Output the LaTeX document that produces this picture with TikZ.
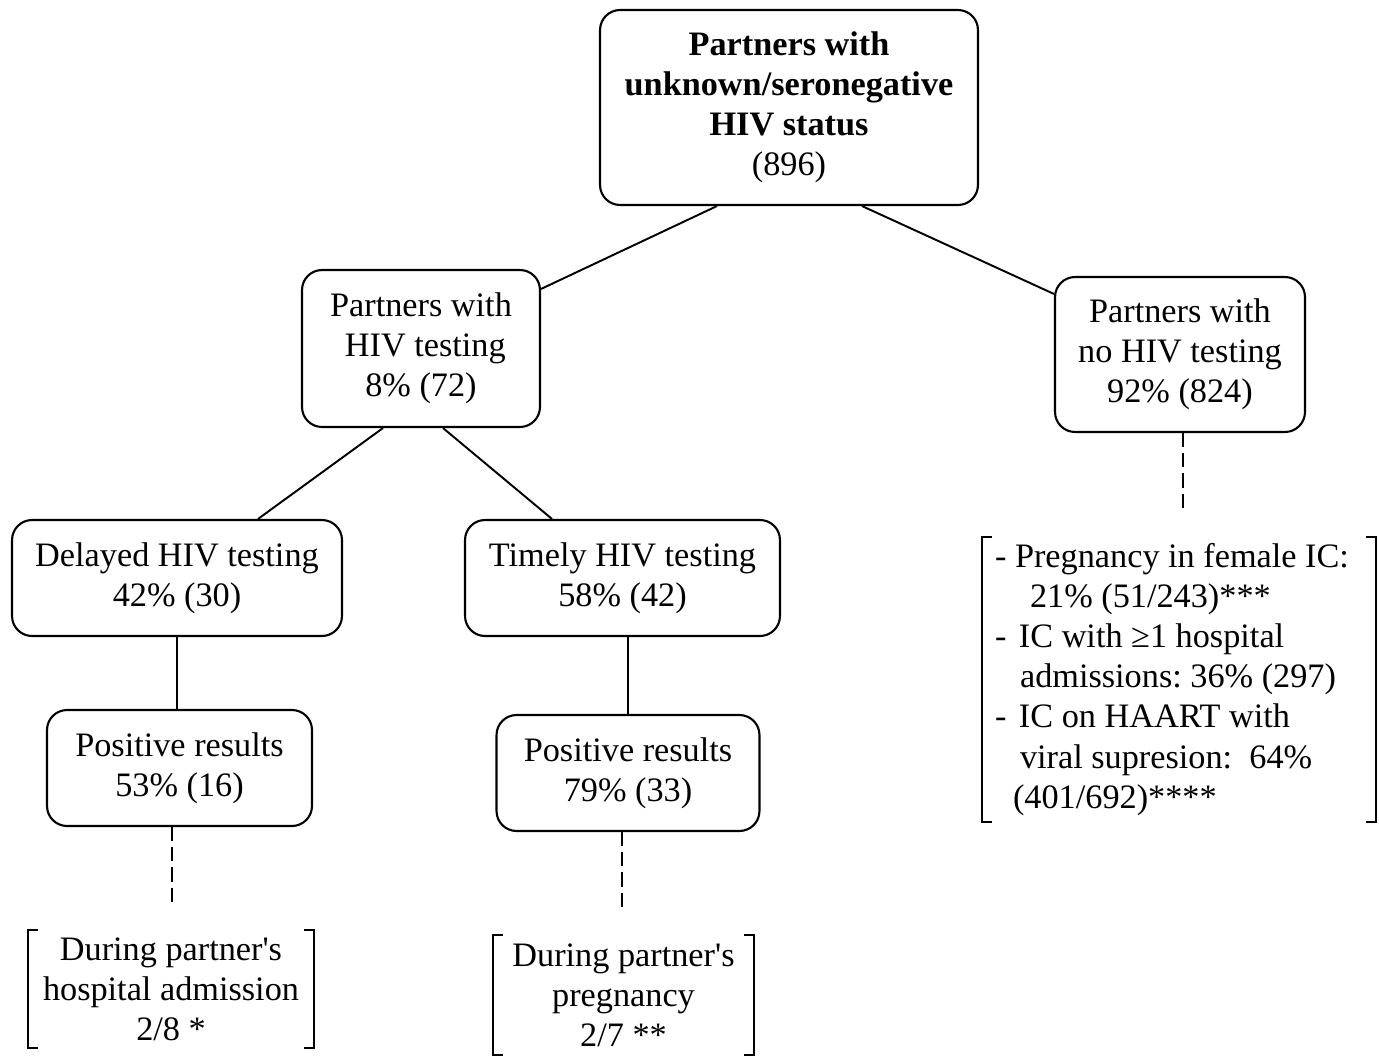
\documentclass[tikz,border=0pt]{standalone}
\usepackage{fontspec}
\setmainfont{Liberation Serif}
\usetikzlibrary{calc}

\tikzset{
	box/.style={draw, rectangle, rounded corners=0.4cm, line width=1.2pt, align=center, inner sep=0pt},
	brack/.style={rectangle, align=center, inner sep=0pt},
	link/.style={line width=1.1pt},
	dashlink/.style={line width=1.1pt, dash pattern=on 8pt off 3.5pt}
}

\begin{document}
\begin{tikzpicture}[x=0.02cm, y=-0.02cm, font=\fontsize{19.5}{22.8}\selectfont\frenchspacing]
	\useasboundingbox (0,0) rectangle (1379,1055);

	\node[box, minimum width=7.56cm, minimum height=3.9cm] (top) at (789,107.5)
		{\textbf{Partners with}\\ \textbf{unknown/seronegative}\\ \textbf{HIV status}\\ (896)};

	\node[box, minimum width=4.76cm, minimum height=3.14cm] (test) at (421,348.5)
		{Partners with\\ \ HIV testing\\ 8\% (72)};
	\node[box, minimum width=5cm, minimum height=3.1cm] (none) at (1180,354.5)
		{Partners with\\ no HIV testing\\ 92\% (824)};

	\node[box, minimum width=6.6cm, minimum height=2.32cm] (delayed) at (177,578)
		{Delayed HIV testing\\ 42\% (30)};
	\node[box, minimum width=6.3cm, minimum height=2.32cm] (timely) at (622.5,578)
		{Timely HIV testing\\ 58\% (42)};

	\node[box, minimum width=5.3cm, minimum height=2.32cm] (pos1) at (179.5,768)
		{Positive results\\ 53\% (16)};
	\node[box, minimum width=5.26cm, minimum height=2.32cm] (pos2) at (628,773)
		{Positive results\\ 79\% (33)};

	% bracketed notes
	\node[brack, minimum width=5.72cm, minimum height=2.36cm] (during1) at (171,989)
		{During partner\textquotesingle s\\ hospital admission\\ 2/8 *};
	\node[brack, minimum width=5.22cm, minimum height=2.4cm] (during2) at (623.5,995)
		{During partner\textquotesingle s\\ pregnancy\\ 2/7 **};
	\node[brack, align=left, text width=7.36cm, inner xsep=0.26cm, minimum height=5.7cm] (ic) at (1179,679.5)
		{\spaceskip=0pt \xspaceskip=0pt
		- Pregnancy in female IC:\\
		\hspace*{0.7cm}21\% (51/243)***\\
		-\hspace*{0.25cm}IC with ≥1 hospital\\
		\hspace*{0.5cm}admissions: 36\% (297)\\
		-\hspace*{0.25cm}IC on HAART with\\
		\hspace*{0.5cm}viral supresion:\ \ 64\%\\
		\hspace*{0.36cm}(401/692)****};

	\foreach \b in {during1, during2, ic} {
		\draw[link] ($(\b.north west)+(10,0)$) -| (\b.south west) -- ++(10,0);
		\draw[link] ($(\b.north east)+(-10,0)$) -| (\b.south east) -- ++(-10,0);
	}

	\draw[link] ($(top.south)+(-72,0)$) -- ($(test.north east)+(0,20)$);
	\draw[link] ($(top.south)+(73,0)$) -- ($(none.north west)+(0,18)$);
	\draw[link] ($(test.south)+(-38,0)$) -- ($(delayed.north)+(81,0)$);
	\draw[link] ($(test.south)+(22,0)$) -- ($(timely.north)+(-70.5,0)$);
	\draw[link] (delayed.south) -- (delayed.south |- pos1.north);
	\draw[link] (timely.south -| pos2.north) -- (pos2.north);

	\draw[dashlink] ($(pos1.south)+(-7.5,0)$) -- ($(during1.north)+(1,-25)$);
	\draw[dashlink] ($(pos2.south)+(-6,0)$) -- ($(during2.north)+(-1.5,-25)$);
	\draw[dashlink] ($(none.south)+(3,0)$) -- ($(ic.north)+(4,-27)$);
\end{tikzpicture}
\end{document}
